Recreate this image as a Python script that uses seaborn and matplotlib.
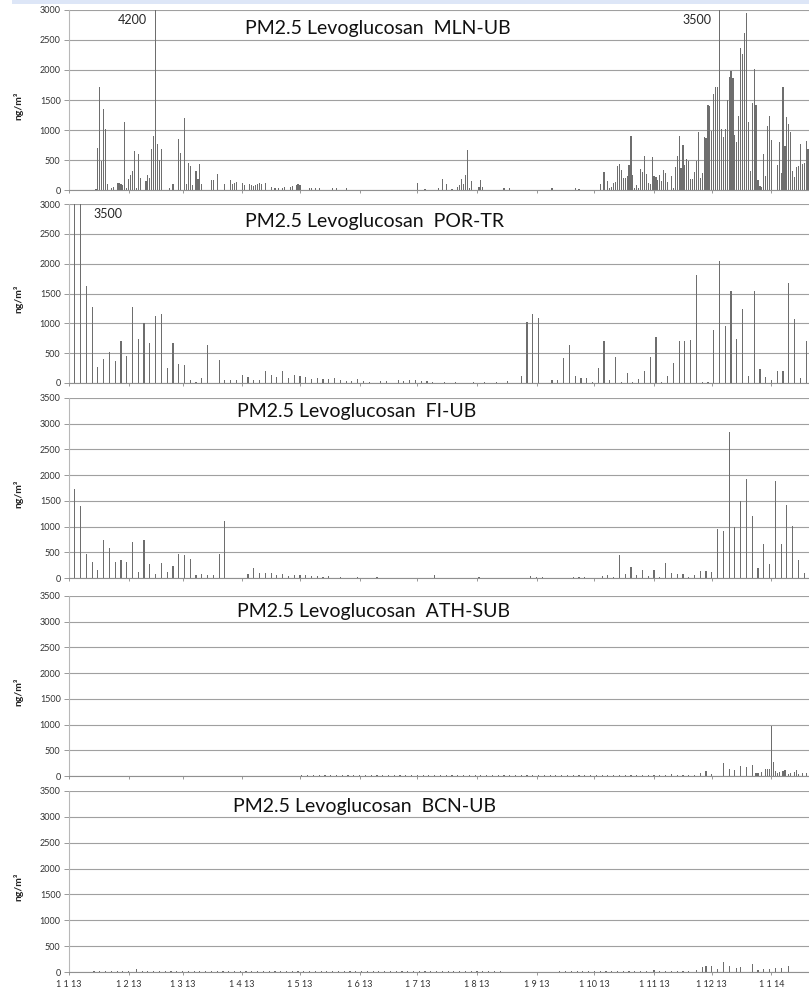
import numpy as np
import pandas as pd
import matplotlib
matplotlib.use("Agg")
import matplotlib.pyplot as plt
import seaborn as sns
from matplotlib.patches import Rectangle

# -----------------------------
# DATA  (day index: 0 = 1 Jan 2013)
# -----------------------------
month_days = [0, 31, 59, 90, 120, 151, 181, 212, 243, 273, 304, 334, 365]
month_labels = ["1 1 13", "1 2 13", "1 3 13", "1 4 13", "1 5 13", "1 6 13", "1 7 13",
                "1 8 13", "1 9 13", "1 10 13", "1 11 13", "1 12 13", "1 1 14"]

stations = ["MLN-UB", "POR-TR", "FI-UB", "ATH-SUB", "BCN-UB"]
y_max = [3000, 3000, 3500, 3500, 3500]

mln_days = [14, 15, 16, 17, 18, 19, 20, 22, 23, 25, 26, 27, 28, 29, 30, 31, 32, 33, 34, 35, 36, 37,
            40, 41, 42, 43, 44, 45, 46, 47, 48, 52, 54, 57, 58, 60, 61, 62, 63, 64, 66, 67, 68, 69,
            74, 75, 77, 81, 84, 85, 86, 87, 90, 91, 94, 95, 96, 97, 98, 99, 100, 102,
            105, 107, 109, 111, 112, 115, 116, 118, 119, 120, 125, 126, 128, 130, 137, 139, 144,
            181, 185, 192, 194, 196, 199, 202, 203, 204, 205, 206, 207, 208, 209, 213, 214, 215, 226, 229,
            251, 263, 265, 276, 278, 280, 281, 282, 283, 284, 285, 286, 287, 288, 289, 290, 291, 292,
            293, 294, 295, 296, 297, 298, 299, 300, 301, 302, 303, 304, 305, 306, 307, 308, 309, 310,
            311, 313, 314, 315, 316, 317, 318, 319, 320, 321, 322, 323, 324, 325, 326, 327, 328, 329,
            330, 331, 332, 333, 334, 335, 336, 337, 338, 339, 340, 341, 342, 343, 344, 345, 346, 347,
            348, 349, 350, 351, 352, 353, 354, 355, 356, 357, 358, 359, 360, 361, 362, 363, 364, 365,
            368, 369, 370, 371, 372, 373, 374, 375, 376, 377, 378, 379, 380, 381, 382, 383, 384]
mln_vals = [20, 694, 1722, 483, 1355, 1011, 94, 40, 55, 122, 122, 94, 89, 1139, 30, 178, 244, 317, 650, 40, 605, 205,
            150, 244, 194, 678, 900, 4200, 760, 500, 689, 40, 94, 844, 622, 1194, 94, 455, 400, 78, 317, 178, 428, 94,
            161, 161, 272, 94, 161, 94, 122, 133, 122, 78, 100, 78, 67, 83, 105, 122, 105, 122,
            55, 40, 30, 40, 45, 55, 66, 83, 100, 83, 40, 30, 40, 35, 35, 30, 40,
            122, 25, 30, 180, 105, 25, 45, 78, 178, 94, 250, 667, 40, 150, 45, 161, 55, 30, 30,
            40, 28, 17, 100, 300, 150, 40, 55, 122, 139, 405, 433, 333, 194, 194, 233, 417, 900,
            250, 28, 78, 28, 344, 305, 567, 267, 111, 94, 550, 233, 222, 167, 250, 150, 333, 289,
            139, 233, 28, 378, 572, 900, 361, 750, 417, 511, 483, 183, 183, 305, 489, 967, 205, 289,
            878, 867, 1411, 1400, 989, 1594, 1711, 1711, 3500, 1022, 889, 1022, 1500, 1889, 1989, 1872, 917, 806,
            1233, 2372, 2267, 2622, 2956, 1133, 317, 1444, 2011, 1411, 167, 67, 45, 594, 233, 1067, 1233, 833,
            417, 806, 289, 1711, 739, 1222, 1094, 961, 317, 211, 389, 400, 761, 433, 444, 817, 683]

por_days = [3, 6, 9, 12, 15, 18, 21, 24, 27, 30, 33, 36, 39, 42, 45, 48, 51, 54, 57, 60, 63, 66, 69, 72,
            78, 81, 84, 87, 90, 93, 96, 99, 102, 105, 108, 111, 114, 117, 120, 123, 126, 129, 132, 135,
            138, 141, 144, 147, 150, 153, 156, 162, 165, 171, 174, 177, 180, 183, 186, 189, 195, 201,
            210, 216, 222, 228, 235, 238, 241, 244, 251, 254, 257, 260, 263, 266, 269, 272, 275, 278,
            281, 284, 287, 290, 293, 296, 299, 302, 305, 308, 311, 314, 317, 320, 323, 326, 329, 332,
            335, 338, 341, 344, 347, 350, 353, 356, 359, 362, 365, 368, 371, 374, 377, 380, 383]
por_vals = [3100, 3500, 1630, 1280, 260, 400, 520, 370, 705, 450, 1275, 740, 1000, 670, 1115, 1155, 255, 670,
            320, 305, 50, 20, 80, 640, 385, 50, 50, 50, 140, 100, 50, 45, 200, 130, 100, 200, 80, 140, 110,
            100, 60, 90, 70, 60, 80, 50, 40, 30, 70, 30, 20, 40, 30, 50, 30, 50, 50, 40, 30, 25, 20, 15,
            20, 15, 20, 30, 120, 1030, 1150, 1090, 45, 55, 420, 633, 120, 80, 80, 10, 250, 705,
            45, 430, 10, 160, 10, 60, 195, 430, 778, 10, 118, 330, 705, 705, 715, 1810, 10, 10,
            885, 2045, 958, 1550, 745, 1238, 112, 1534, 240, 100, 55, 195, 195, 1670, 1080, 85, 705]

fi_days = [0, 3, 6, 9, 12, 15, 18, 21, 24, 27, 30, 33, 36, 39, 42, 45, 48, 51, 54, 57, 60, 63, 66, 69,
           72, 75, 78, 81, 93, 96, 99, 102, 105, 108, 111, 114, 117, 120, 123, 126, 129, 132, 135, 141,
           150, 160, 190, 213, 240, 243, 246, 262, 265, 268, 277, 280, 283, 286, 289, 292, 295, 298,
           301, 304, 307, 310, 313, 316, 319, 322, 325, 328, 331, 334, 337, 340, 343, 346, 349, 352,
           355, 358, 361, 364, 367, 370, 373, 376, 379, 382]
fi_vals = [1720, 1730, 1400, 460, 310, 150, 740, 590, 310, 345, 310, 700, 120, 740, 270, 70, 290, 120,
           230, 460, 450, 360, 50, 85, 65, 65, 460, 1100, 80, 200, 100, 100, 90, 60, 80, 40, 50, 60, 50,
           40, 30, 20, 30, 20, 15, 10, 50, 20, 30, 20, 15, 13, 10, 10, 45, 65, 20, 455, 85, 208, 52, 150,
           32, 160, 10, 300, 105, 70, 70, 25, 52, 130, 143, 117, 960, 915, 2830, 993, 1493, 1934,
           1207, 190, 662, 266, 1895, 655, 1415, 1019, 357, 97]

ath_days = [121, 124, 127, 130, 133, 136, 139, 142, 145, 148, 151, 154, 157, 160, 163, 166, 169, 172,
            175, 178, 181, 184, 187, 190, 193, 196, 199, 202, 205, 208, 211, 214, 217, 220, 223, 226,
            229, 232, 235, 238, 241, 244, 247, 250, 253, 256, 259, 262, 265, 268, 271, 274, 277, 280,
            283, 286, 289, 292, 295, 298, 301, 304, 307, 310, 313, 316, 319, 322, 325,
            328, 331, 334, 340, 343, 346, 349, 352, 355, 357, 358, 360, 362, 363, 364, 365, 366, 367,
            368, 369, 371, 372, 374, 375, 377, 378, 379, 381, 383]
ath_vals = [15, 20, 15, 10, 20, 15, 25, 15, 20, 10, 15, 20, 15, 20, 10, 15, 20, 15,
            10, 20, 15, 20, 10, 15, 20, 15, 20, 15, 10, 20, 15, 20, 15, 10, 20, 15,
            20, 15, 10, 20, 15, 20, 15, 20, 10, 15, 20, 15, 25, 15, 20, 10, 15, 20,
            15, 20, 15, 20, 10, 15, 20, 25, 20, 15, 30, 20, 25, 20, 15,
            65, 97, 30, 260, 130, 110, 200, 175, 220, 65, 50, 85, 130, 130, 130, 980, 280, 91,
            52, 72, 104, 117, 39, 52, 78, 110, 39, 52, 65]

bcn_days = [13, 16, 19, 22, 25, 28, 31, 35, 38, 41, 44, 47, 50, 53, 56, 59, 62, 65, 68, 71, 74, 77,
            80, 83, 86, 89, 92, 95, 98, 101, 104, 107, 110, 113, 116, 119, 122, 125, 128, 131, 134, 137,
            140, 143, 146, 149, 152, 155, 158, 161, 164, 167, 170, 173, 176, 179, 182, 185, 188, 191,
            194, 197, 200, 203, 206, 209, 212, 215, 218, 221, 224, 255, 258, 261, 264, 267, 270, 273,
            276, 279, 282, 285, 288, 291, 294, 297, 300, 304, 307, 310, 313, 316, 319, 322, 326, 329,
            331, 334, 337, 340, 343, 347, 349, 355, 358, 361, 364, 367, 370, 374]
bcn_vals = [20, 25, 20, 15, 20, 25, 20, 50, 20, 15, 20, 25, 20, 15, 20, 20, 25, 15, 20, 20, 15, 20,
            25, 20, 15, 20, 20, 25, 15, 20, 20, 15, 25, 20, 20, 15, 20, 25, 20, 15, 20, 20,
            25, 15, 20, 20, 15, 20, 25, 20, 15, 20, 20, 25, 15, 20, 20, 15, 20, 25,
            20, 15, 20, 20, 25, 15, 20, 20, 15, 20, 25, 20, 15, 20, 25, 20, 15, 20,
            25, 20, 15, 20, 20, 25, 20, 15, 20, 45, 20, 25, 20, 15, 20, 25, 30, 97,
            110, 110, 52, 187, 110, 77, 97, 148, 32, 58, 65, 77, 77, 123]

series = [(mln_days, mln_vals), (por_days, por_vals), (fi_days, fi_vals),
          (ath_days, ath_vals), (bcn_days, bcn_vals)]

# -----------------------------
# LAYOUT (pixels of the 809x992 picture)
# -----------------------------
W, H = 809, 992
ax_left = 69
panel_px = [(10, 190), (204, 383), (398, 578), (596, 776), (791, 972)]
title_px = [(245, 34), (245, 227), (237, 417), (237, 617), (233, 812)]

sns.set_theme(style="white")
plt.rcParams["font.family"] = ["Lato", "DejaVu Sans"]

fig = plt.figure(figsize=(W / 100, H / 100), dpi=100)
fig.patch.set_facecolor("white")
fig.patches.append(Rectangle((12 / W, 1 - 4 / H), 1, 4 / H, transform=fig.transFigure,
                             facecolor="#dde6f7", edgecolor="none"))

axes = []
for i, (name, (days, vals)) in enumerate(zip(stations, series)):
    top, bot = panel_px[i]
    ax = fig.add_axes([ax_left / W, 1 - bot / H, (W - ax_left) / W, (bot - top) / H])
    df = pd.DataFrame({"day": days, "val": vals})
    gap = np.diff(np.unique(days)).min()
    sns.barplot(data=df, x="day", y="val", native_scale=True, width=0.6 / gap,
                color="#6e6e6e", saturation=1, errorbar=None, linewidth=0, ax=ax)

    ax.set_xlim(0, 384.5)
    ax.set_ylim(0, y_max[i])
    ax.set_yticks(np.arange(0, y_max[i] + 1, 500))
    ax.set_xticks(month_days)
    if i == len(stations) - 1:
        ax.set_xticklabels(month_labels)
    else:
        ax.set_xticklabels([])
    ax.set_xlabel("")
    ax.set_ylabel("ng/m³", fontsize=7.5, fontweight="bold", color="#222222")
    ax.yaxis.set_label_coords(-0.062, 0.47)

    ax.yaxis.grid(True, color="#a0a0a0", linewidth=0.8)
    ax.xaxis.grid(False)
    ax.set_axisbelow(True)
    for s in ["top", "right"]:
        ax.spines[s].set_visible(False)
    ax.spines["left"].set_color("#b8b8b8")
    ax.spines["bottom"].set_color("#909090")
    ax.spines["left"].set_linewidth(0.8)
    ax.spines["bottom"].set_linewidth(0.8)
    ax.tick_params(axis="y", left=True, length=3.5, width=0.7, color="#999999",
                   labelsize=6.5, labelcolor="#333333", pad=2.5)
    ax.tick_params(axis="x", bottom=True, length=2.5, width=0.7, color="#999999",
                   labelsize=6.5, labelcolor="#333333", pad=3)

    tx, ty = title_px[i]
    fig.text(tx / W, 1 - ty / H, "PM2.5 Levoglucosan  " + name, fontsize=14,
             ha="left", va="baseline", color="#111111")
    axes.append(ax)

# values that go off the scale
axes[0].annotate("4200", xy=(45, 3000), xytext=(-6, -3), textcoords="offset points",
                 ha="right", va="top", fontsize=9)
axes[0].annotate("3500", xy=(338, 3000), xytext=(-6, -3), textcoords="offset points",
                 ha="right", va="top", fontsize=9)
axes[1].annotate("3500", xy=(6, 3000), xytext=(9.5, -3), textcoords="offset points",
                 ha="left", va="top", fontsize=9)

fig.savefig("out.png", dpi=100)
